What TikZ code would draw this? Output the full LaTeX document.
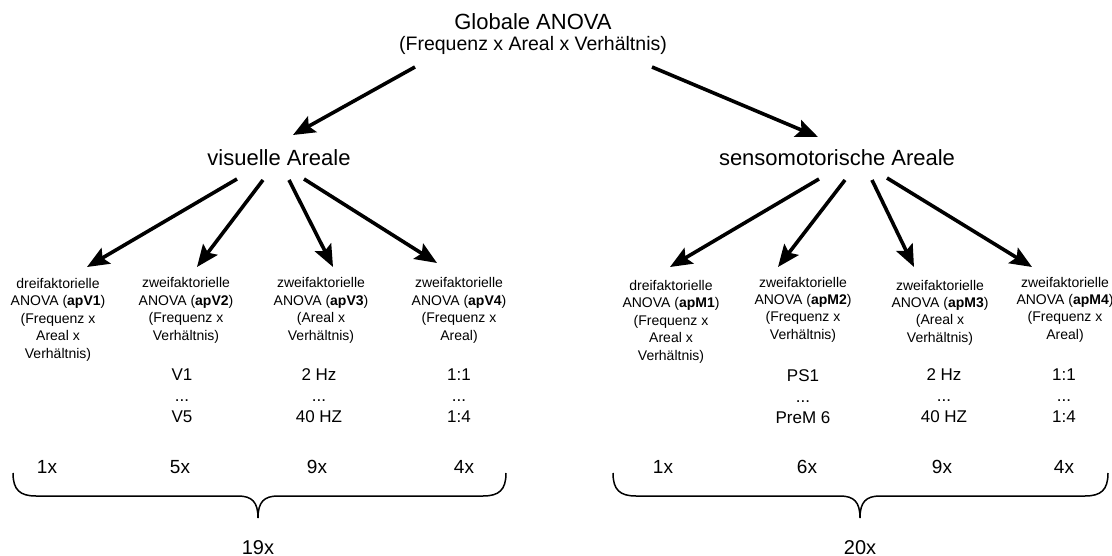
\documentclass[tikz,border=0pt]{standalone}
\usepackage{fontspec}
\setmainfont{Liberation Sans}
\usetikzlibrary{arrows.meta}
\begin{document}
\begin{tikzpicture}[x=1pt,y=-1pt,
  arr/.style={line width=3.6pt,-{Stealth[length=22pt,width=18pt,inset=4pt]}},
  base/.style={inner sep=0pt,anchor=base,align=center},
  ttl/.style={base,font=\fontsize{22}{26}\selectfont},
  subttl/.style={base,font=\fontsize{19.5}{23}\selectfont},
  area/.style={base,font=\fontsize{22}{26}\selectfont},
  blk/.style={base,font=\fontsize{14}{17.5}\selectfont},
  lvl/.style={base,font=\fontsize{17}{21}\selectfont},
  cnt/.style={base,font=\fontsize{19}{23}\selectfont},
  tot/.style={base,font=\fontsize{20}{24}\selectfont},
  brace/.style={line width=1.5pt}]
\useasboundingbox (0,0) rectangle (1112,556);
\clip (0,0) rectangle (1112,556);

% top
\node[ttl] (glob) at (533,30) {Globale ANOVA};
\node[subttl] (globsub) at (533,51) {(Frequenz x Areal x Verhältnis)};
\node[area] (vis) at (279,166) {visuelle Areale};
\node[area] (sen) at (837,166) {sensomotorische Areale};

\coordinate (gL) at (415,67); \coordinate (gLt) at (293,135);
\coordinate (gR) at (652,67); \coordinate (gRt) at (818,137);
\draw[arr] (gL) -- (gLt);
\draw[arr] (gR) -- (gRt);

% fan arrows left
\coordinate (va1) at (237,179); \coordinate (vt1) at (87,267);
\coordinate (va2) at (263,180); \coordinate (vt2) at (197,267);
\coordinate (va3) at (289,180); \coordinate (vt3) at (333,267);
\coordinate (va4) at (304,179); \coordinate (vt4) at (437,263);
\foreach \i in {1,2,3,4} {\draw[arr] (va\i) -- (vt\i);}

% fan arrows right
\coordinate (sa1) at (819,179); \coordinate (st1) at (670,267);
\coordinate (sa2) at (845,180); \coordinate (st2) at (778,267);
\coordinate (sa3) at (872,180); \coordinate (st3) at (914,267);
\coordinate (sa4) at (887,178); \coordinate (st4) at (1032,267);
\foreach \i in {1,2,3,4} {\draw[arr] (sa\i) -- (st\i);}

% blocks left (anchored at baseline of last line)
\node[blk] (v1) at (58,358) {dreifaktorielle\\ANOVA (\textbf{apV1})\\(Frequenz x\\Areal x\\Verhältnis)};
\node[blk] (v2) at (186,340.5) {zweifaktorielle\\ANOVA (\textbf{apV2})\\(Frequenz x\\Verhältnis)};
\node[blk] (v3) at (321,340.5) {zweifaktorielle\\ANOVA (\textbf{apV3})\\(Areal x\\Verhältnis)};
\node[blk] (v4) at (459,340.5) {zweifaktorielle\\ANOVA (\textbf{apV4})\\(Frequenz x\\Areal)};

% blocks right
\node[blk] (m1) at (671,360) {dreifaktorielle\\ANOVA (\textbf{apM1})\\(Frequenz x\\Areal x\\Verhältnis)};
\node[blk] (m2) at (803,339.5) {zweifaktorielle\\ANOVA (\textbf{apM2})\\(Frequenz x\\Verhältnis)};
\node[blk] (m3) at (940,342.5) {zweifaktorielle\\ANOVA (\textbf{apM3})\\(Areal x\\Verhältnis)};
\node[blk] (m4) at (1065,339.5) {zweifaktorielle\\ANOVA (\textbf{apM4})\\(Frequenz x\\Areal)};

% levels
\node[lvl] (lv2) at (182,422) {V1\\...\\V5};
\node[lvl] (lv3) at (319,422) {2 Hz\\...\\40 HZ};
\node[lvl] (lv4) at (459,422) {1:1\\...\\1:4};
\node[lvl] (lm2) at (803,423) {PS1\\...\\PreM 6};
\node[lvl] (lm3) at (944,422) {2 Hz\\...\\40 HZ};
\node[lvl] (lm4) at (1064,422) {1:1\\...\\1:4};

% counts
\node[cnt] (cv1) at (47,473) {1x};
\node[cnt] (cv2) at (180,473) {5x};
\node[cnt] (cv3) at (317,473) {9x};
\node[cnt] (cv4) at (464,473) {4x};
\node[cnt] (cm1) at (663,473) {1x};
\node[cnt] (cm2) at (807,473) {6x};
\node[cnt] (cm3) at (942,473) {9x};
\node[cnt] (cm4) at (1064,473) {4x};

% braces
\draw[brace] (13,473) .. controls (13,490) and (20,496) .. (36,496) -- (238,496)
  .. controls (252,496) and (258,502) .. (258,518)
  .. controls (258,502) and (264,496) .. (278,496) -- (483,496)
  .. controls (499,496) and (506,490) .. (506,473);
\draw[brace] (613,473) .. controls (613,490) and (620,496) .. (636,496) -- (840,496)
  .. controls (854,496) and (860,502) .. (860,518)
  .. controls (860,502) and (866,496) .. (880,496) -- (1085,496)
  .. controls (1101,496) and (1108,490) .. (1108,473);

% totals
\node[tot] (tv) at (258,554) {19x};
\node[tot] (tm) at (860,554) {20x};
\end{tikzpicture}
\end{document}
